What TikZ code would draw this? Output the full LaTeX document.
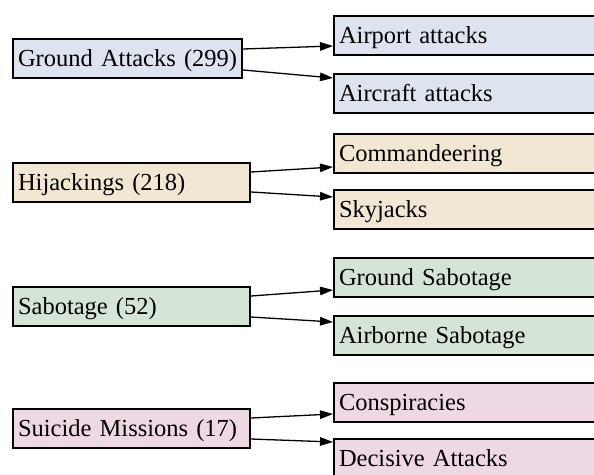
\documentclass[tikz,border=0pt]{standalone}
\usepackage{fontspec}
\setmainfont{Liberation Serif}
\usetikzlibrary{arrows.meta}
\definecolor{ground}{HTML}{DDE3EF}
\definecolor{hijack}{HTML}{F2E7D3}
\definecolor{sabot}{HTML}{D4E5D5}
\definecolor{suicide}{HTML}{EDD8E3}
\tikzset{
  box/.style={draw=black, line width=2pt, anchor=north west, inner xsep=5pt, inner ysep=0pt,
    align=left, text height=27pt, text depth=12pt, font=\fontsize{24.5}{30}\selectfont},
  catbox/.style={box, text width=#1},
  subbox/.style={box, text width=280pt},
  link/.style={line width=1.3pt, -{Triangle[length=13pt,width=8.5pt]}},
}
\begin{document}
\begin{tikzpicture}[x=1pt,y=-1pt]
  \useasboundingbox (0,0) rectangle (594,474);
  \clip (0,0) rectangle (594,474);
  % categories
  \node[catbox=219pt, fill=ground] (ga) at (12,38) {\mbox{Ground Attacks (299)}};
  \node[catbox=227pt, fill=hijack] (hj) at (12,162) {\mbox{Hijackings (218)}};
  \node[catbox=227pt, fill=sabot] (sb) at (12,286) {\mbox{Sabotage (52)}};
  \node[catbox=227pt, fill=suicide] (sm) at (12,408) {\mbox{Suicide Missions (17)}};
  % subcategories
  \node[subbox, fill=ground] (ap) at (333,15) {\mbox{Airport attacks}};
  \node[subbox, fill=ground] (ac) at (333,73) {\mbox{Aircraft attacks}};
  \node[subbox, fill=hijack] (cm) at (333,133) {\mbox{Commandeering}};
  \node[subbox, fill=hijack] (sk) at (333,189) {\mbox{Skyjacks}};
  \node[subbox, fill=sabot] (gs) at (333,257) {\mbox{Ground Sabotage}};
  \node[subbox, fill=sabot] (as) at (333,315) {\mbox{Airborne Sabotage}};
  \node[subbox, fill=suicide] (cs) at (333,382) {\mbox{Conspiracies}};
  \node[subbox, fill=suicide] (da) at (333,438) {\mbox{Decisive Attacks}};
  % links: category -> upper and lower subcategory
  \foreach \a/\u/\l/\su/\eu/\sl/\el in {ga/ap/ac/11/10/9/5, hj/cm/sk/10/7/11/8,
                                        sb/gs/as/10/8/10/7, sm/cs/da/10/9/10/4}{
    \draw[link] ([yshift=-\su pt]\a.north east) -- ([yshift=\eu pt]\u.south west);
    \draw[link] ([yshift=\sl pt]\a.south east) -- ([yshift=-\el pt]\l.north west);
  }
\end{tikzpicture}
\end{document}
